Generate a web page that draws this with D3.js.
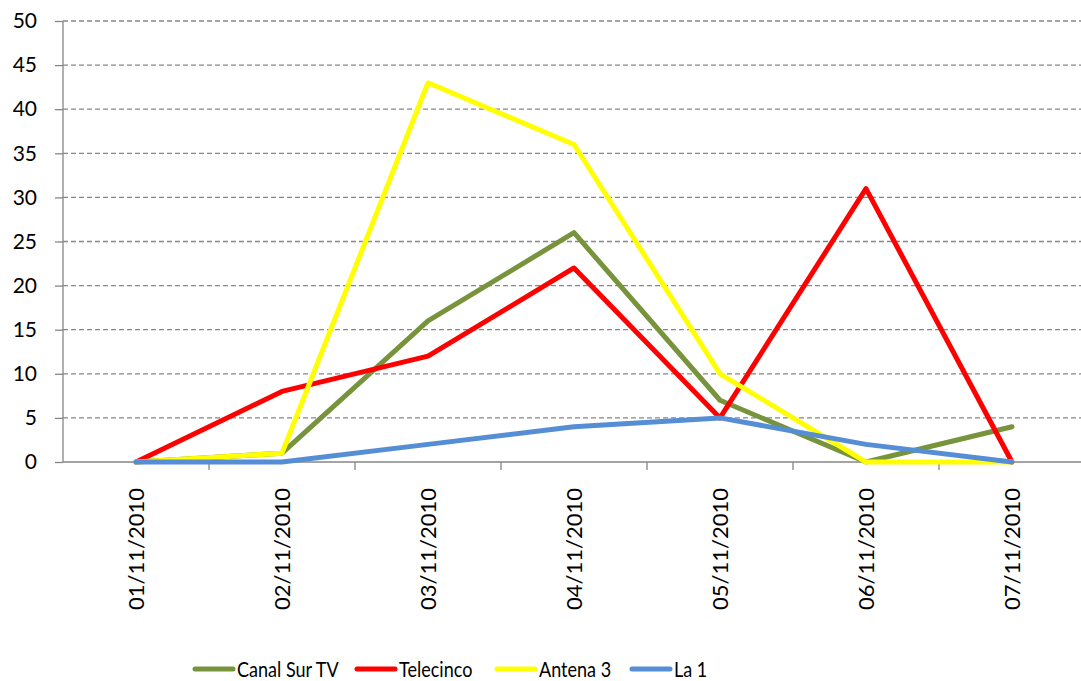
<!DOCTYPE html>
<html>
<head>
<meta charset="utf-8">
<script src="https://cdn.jsdelivr.net/npm/d3@7"></script>
<style>
  body { margin: 0; background: #fff; }
  svg { display: block; font-family: Lato, "Open Sans", sans-serif; }
</style>
</head>
<body>
<script>
// dates along the x axis
var dates = ["01/11/2010", "02/11/2010", "03/11/2010", "04/11/2010",
             "05/11/2010", "06/11/2010", "07/11/2010"];

// one array per channel
var canalSur = [0, 1, 16, 26, 7, 0, 4];
var telecinco = [0, 8, 12, 22, 5, 31, 0];
var antena3 = [0, 1, 43, 36, 10, 0, 0];
var la1 = [0, 0, 2, 4, 5, 2, 0];

var seriesNames = ["Canal Sur TV", "Telecinco", "Antena 3", "La 1"];
var seriesColors = ["#77933C", "#FF0000", "#FFFF00", "#558ED5"];
var yTicks = [0, 5, 10, 15, 20, 25, 30, 35, 40, 45, 50];

var W = 1081, H = 681;
var plotLeft = 63, plotRight = 1085, plotTop = 21, plotBottom = 462;

var svg = d3.select("body").append("svg")
  .attr("width", W).attr("height", H);

var x = d3.scaleBand().domain(dates).range([plotLeft, plotRight]);
var y = d3.scaleLinear().domain([0, 50]).range([plotBottom, plotTop]);

// horizontal grid (dashed)
svg.append("g")
  .selectAll("line")
  .data(yTicks.filter(function(d) { return d > 0; }))
  .join("line")
  .attr("x1", plotLeft).attr("x2", plotRight)
  .attr("y1", function(d) { return y(d); })
  .attr("y2", function(d) { return y(d); })
  .style("stroke", "#868686").style("stroke-width", 1.3)
  .style("stroke-dasharray", "5,3");

// y axis
var yAxis = svg.append("g")
  .attr("transform", "translate(" + plotLeft + ",0)")
  .call(d3.axisLeft(y).tickValues(yTicks).tickSize(8).tickPadding(18));
yAxis.selectAll("path, line").style("stroke", "#868686").style("stroke-width", 1.3);
yAxis.select(".domain").attr("d", "M0," + plotBottom + "V" + plotTop);
yAxis.selectAll("text").style("font-size", "21px").style("fill", "#000")
  .style("font-family", "Lato, sans-serif");

// x axis with ticks at band edges
var xAxis = svg.append("g")
  .attr("transform", "translate(0," + plotBottom + ")");
xAxis.append("line")
  .attr("x1", plotLeft).attr("x2", plotRight)
  .style("stroke", "#868686").style("stroke-width", 1.3);
xAxis.selectAll("line.tk")
  .data(dates.slice(1))
  .join("line").attr("class", "tk")
  .attr("x1", function(d) { return x(d); })
  .attr("x2", function(d) { return x(d); })
  .attr("y1", 0).attr("y2", 8)
  .style("stroke", "#868686").style("stroke-width", 1.3);
xAxis.selectAll("text")
  .data(dates)
  .join("text")
  .attr("transform", function(d) {
    return "translate(" + (x(d) + x.bandwidth() / 2 + 8) + ",26) rotate(-90)";
  })
  .attr("text-anchor", "end")
  .style("font-size", "22px")
  .text(function(d) { return d; });

// lines
var allSeries = [canalSur, telecinco, antena3, la1];
var line = d3.line()
  .x(function(d, i) { return x(dates[i]) + x.bandwidth() / 2; })
  .y(function(d) { return y(d); });

svg.append("g")
  .selectAll("path")
  .data(allSeries)
  .join("path")
  .attr("d", line)
  .style("fill", "none")
  .style("stroke", function(d, i) { return seriesColors[i]; })
  .style("stroke-width", 5)
  .style("stroke-linejoin", "round")
  .style("stroke-linecap", "round");

// legend
var legendX = [195, 357, 497, 632];
var legend = svg.append("g")
  .selectAll("g")
  .data(seriesNames)
  .join("g")
  .attr("transform", function(d, i) { return "translate(" + legendX[i] + ",669)"; });
legend.append("line")
  .attr("x1", 0).attr("x2", 38)
  .style("stroke", function(d, i) { return seriesColors[i]; })
  .style("stroke-width", 5)
  .style("stroke-linecap", "round");
// calibri-ish narrow text: squeeze Lato a bit horizontally
legend.append("text")
  .attr("transform", "translate(42,8) scale(0.82,1)")
  .style("font-size", "22px")
  .text(function(d) { return d; });
</script>
</body>
</html>
